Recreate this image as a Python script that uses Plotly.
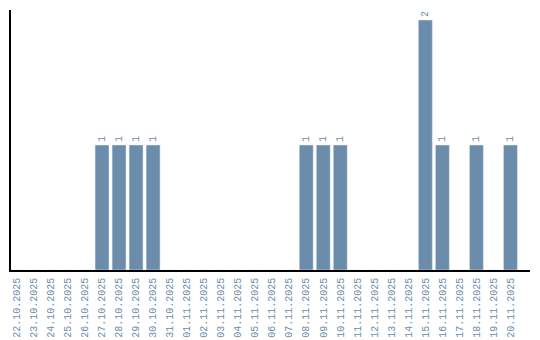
import plotly.graph_objects as go

dates = ["22.10.2025","23.10.2025","24.10.2025","25.10.2025","26.10.2025","27.10.2025",
         "28.10.2025","29.10.2025","30.10.2025","31.10.2025","01.11.2025","02.11.2025",
         "03.11.2025","04.11.2025","05.11.2025","06.11.2025","07.11.2025","08.11.2025",
         "09.11.2025","10.11.2025","11.11.2025","12.11.2025","13.11.2025","14.11.2025",
         "15.11.2025","16.11.2025","17.11.2025","18.11.2025","19.11.2025","20.11.2025"]
counts = [0,0,0,0,0,1,1,1,1,0,0,0,0,0,0,0,0,1,1,1,0,0,0,0,2,1,0,1,0,1]

color = "#6b8cab"
labels = [str(v) if v > 0 else "" for v in counts]
font = "Liberation Mono"

fig = go.Figure(go.Bar(
    x=dates, y=counts, marker_color=color, width=0.82,
    text=labels, textposition="outside", textangle=-90,
    textfont=dict(family=font, size=10, color=color),
    cliponaxis=False,
))
fig.update_layout(
    width=540, height=340, margin=dict(l=11, r=10, t=10, b=70, autoexpand=False),
    plot_bgcolor="white", paper_bgcolor="white", showlegend=False,
)
fig.update_xaxes(type="category", range=[-0.35, 30.15], tickangle=-90, automargin=False,
                 tickfont=dict(family=font, size=10, color=color),
                 showline=True, linecolor="black", linewidth=1.5,
                 ticks="outside", ticklen=2, tickcolor="rgba(0,0,0,0)",
                 showgrid=False)
fig.update_yaxes(range=[0, 2.08], showticklabels=False, showgrid=False, automargin=False,
                 zeroline=False, showline=True, linecolor="black", linewidth=1.5, ticks="")
fig.write_html("out.html")
